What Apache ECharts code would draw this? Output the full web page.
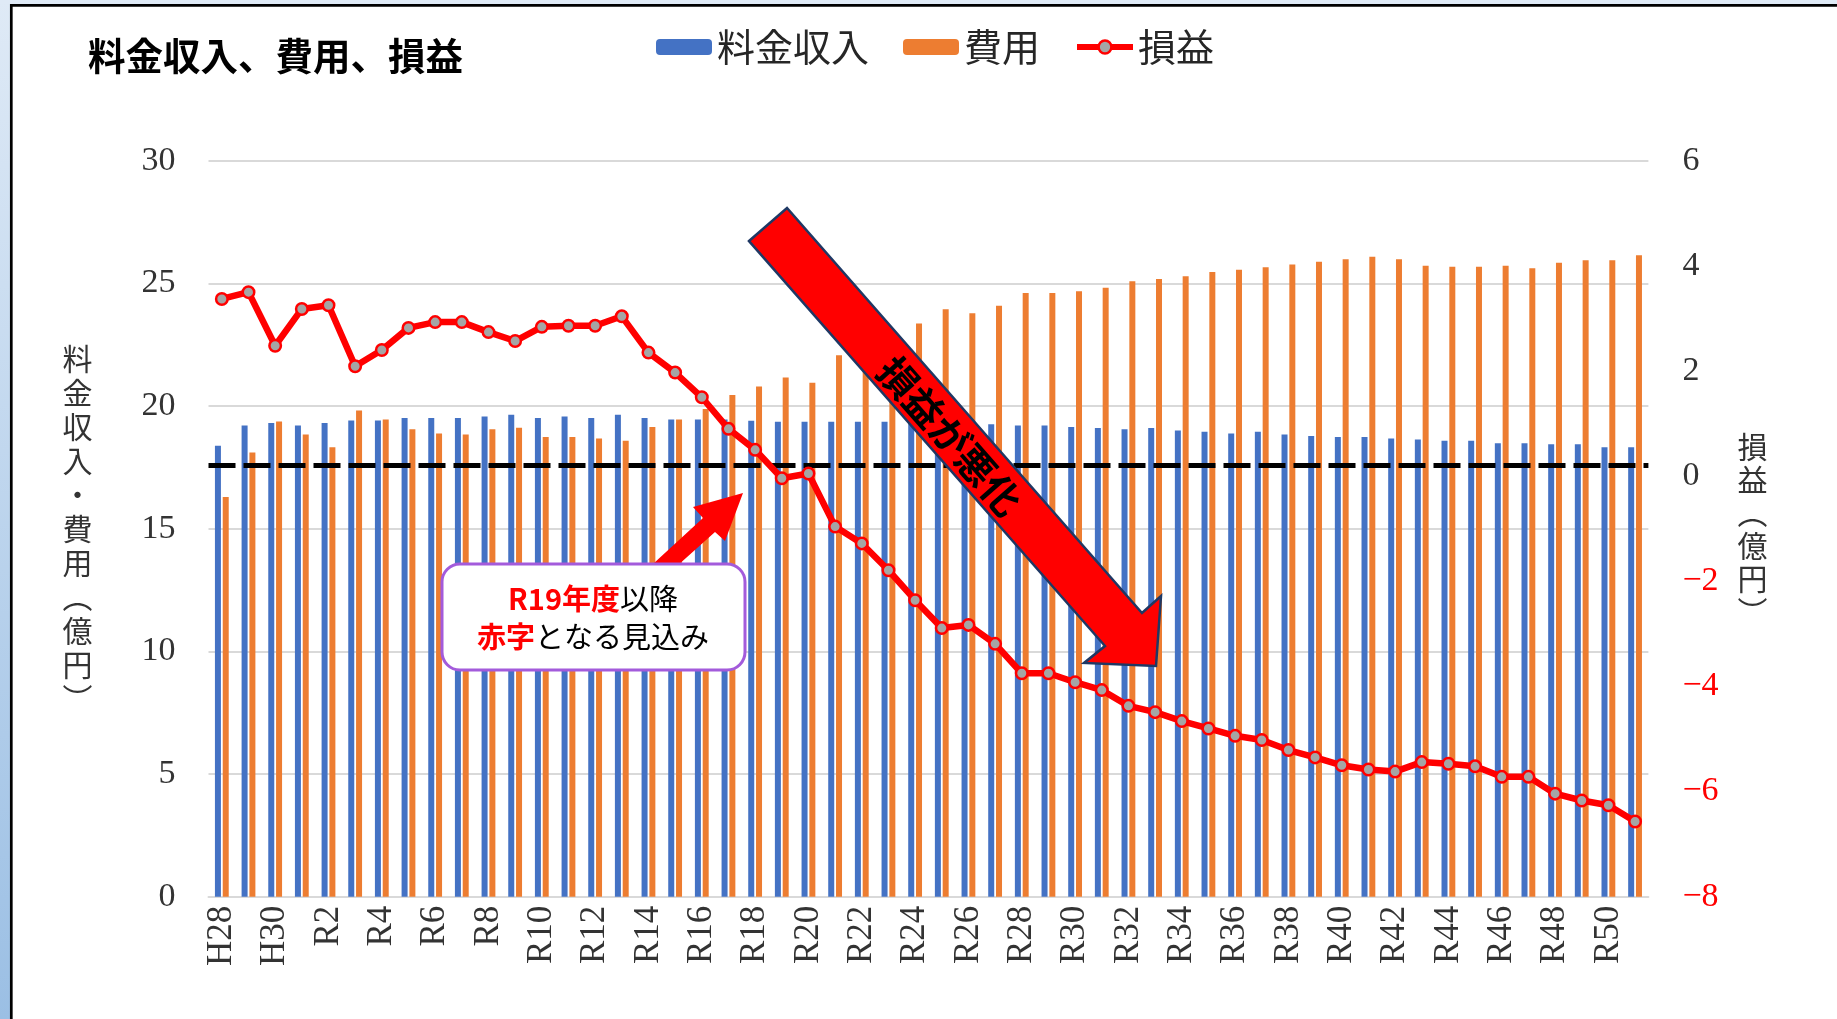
<!DOCTYPE html>
<html>
<head>
<meta charset="utf-8">
<title>料金収入、費用、損益</title>
<script src="https://cdn.jsdelivr.net/npm/echarts@6/dist/echarts.min.js"></script>
<style>
  html, body { margin: 0; padding: 0; background: #fff; }
  #chart { width: 1837px; height: 1019px; }
</style>
</head>
<body>
<div id="chart"></div>
<script>
// 年度
const categories = [
  'H28', 'H29', 'H30', 'R1', 'R2', 'R3', 'R4', 'R5', 'R6', 'R7',
  'R8', 'R9', 'R10', 'R11', 'R12', 'R13', 'R14', 'R15', 'R16', 'R17',
  'R18', 'R19', 'R20', 'R21', 'R22', 'R23', 'R24', 'R25', 'R26', 'R27',
  'R28', 'R29', 'R30', 'R31', 'R32', 'R33', 'R34', 'R35', 'R36', 'R37',
  'R38', 'R39', 'R40', 'R41', 'R42', 'R43', 'R44', 'R45', 'R46', 'R47',
  'R48', 'R49', 'R50', 'R51'
]

// 料金収入（億円）
const revenue = [
  18.38, 19.21, 19.31, 19.21, 19.31, 19.41, 19.41, 19.51, 19.51, 19.51,
  19.57, 19.64, 19.51, 19.57, 19.51, 19.64, 19.51, 19.45, 19.45, 19.45,
  19.40, 19.36, 19.36, 19.36, 19.36, 19.36, 19.33, 19.30, 19.28, 19.26,
  19.21, 19.21, 19.15, 19.10, 19.05, 19.10, 19.00, 18.95, 18.88, 18.95,
  18.84, 18.78, 18.74, 18.74, 18.68, 18.64, 18.58, 18.58, 18.48, 18.48,
  18.44, 18.44, 18.32, 18.32
]

// 費用（億円）
const cost = [
  16.29, 18.11, 19.37, 18.84, 18.32, 19.82, 19.45, 19.05, 18.88, 18.84,
  19.05, 19.11, 18.74, 18.74, 18.68, 18.58, 19.15, 19.45, 19.88, 20.45,
  20.80, 21.16, 20.95, 22.07, 22.40, 22.90, 23.36, 23.94, 23.78, 24.09,
  24.61, 24.61, 24.68, 24.82, 25.09, 25.18, 25.29, 25.46, 25.56, 25.66,
  25.77, 25.88, 25.98, 26.08, 25.98, 25.72, 25.68, 25.68, 25.72, 25.62,
  25.84, 25.94, 25.94, 26.15
]

// 損益（億円）
const profit = [
  3.37, 3.50, 2.48, 3.18, 3.25, 2.09, 2.40, 2.82, 2.93, 2.93,
  2.74, 2.57, 2.84, 2.86, 2.86, 3.04, 2.35, 1.97, 1.50, 0.90,
  0.50, -0.04, 0.05, -0.96, -1.28, -1.79, -2.36, -2.89, -2.83, -3.19,
  -3.75, -3.75, -3.92, -4.07, -4.37, -4.49, -4.66, -4.80, -4.94, -5.02,
  -5.21, -5.35, -5.50, -5.58, -5.62, -5.44, -5.47, -5.52, -5.72, -5.72,
  -6.04, -6.17, -6.26, -6.57
]

const breakEven = 0.2

const jp = 'Noto Sans CJK JP'
const serif = 'Liberation Serif'

const myChart = echarts.init(document.getElementById('chart'))

myChart.setOption({
  animation: false,
  backgroundColor: '#fff',
  textStyle: { fontFamily: jp },
  title: {
    text: '料金収入、費用、損益',
    left: 88,
    top: 37,
    padding: 0,
    textStyle: { fontFamily: jp, fontWeight: 'bold', fontSize: 37.5, color: '#000' }
  },
  legend: {
    left: 656,
    top: 28,
    padding: 0,
    itemWidth: 56,
    itemHeight: 16,
    itemGap: 34,
    textStyle: { fontFamily: jp, fontSize: 38, color: '#262626' },
    data: [
      '料金収入',
      '費用',
      { name: '損益', lineStyle: { width: 6 }, itemStyle: { borderWidth: 2.5 } }
    ]
  },
  grid: {
    left: 208.5,
    right: 188.6,
    top: 160.7,
    bottom: 122.3
  },
  xAxis: {
    type: 'category',
    data: categories,
    axisLine: { lineStyle: { color: '#D9D9D9', width: 2 } },
    axisTick: { show: false },
    axisLabel: {
      interval: 1,
      rotate: 90,
      margin: 9,
      fontFamily: serif,
      fontSize: 35,
      color: '#333'
    }
  },
  yAxis: [
    {
      type: 'value',
      min: 0,
      max: 30,
      interval: 5,
      position: 'left',
      name: '料\n金\n収\n入\n・\n費\n用\n︵\n億\n円\n︶',
      nameLocation: 'middle',
      nameGap: 131,
      nameRotate: 0,
      nameTextStyle: {
        fontFamily: jp, fontSize: 30, lineHeight: 34, color: '#333',
        align: 'center', verticalAlign: 'middle', padding: [0, 0, 9, 0]
      },
      axisLine: { show: false },
      axisTick: { show: false },
      axisLabel: { margin: 33, fontFamily: serif, fontSize: 34, color: '#333' },
      splitLine: { lineStyle: { color: '#D9D9D9', width: 2 } }
    },
    {
      type: 'value',
      min: -8,
      max: 6,
      interval: 2,
      position: 'right',
      name: '損\n益\n︵\n億\n円\n︶',
      nameLocation: 'middle',
      nameGap: 104,
      nameRotate: 0,
      nameTextStyle: {
        fontFamily: jp, fontSize: 30, lineHeight: 33, color: '#333',
        align: 'center', verticalAlign: 'middle', padding: [0, 0, 18, 0]
      },
      axisLine: { show: false },
      axisTick: { show: false },
      splitLine: { show: false },
      axisLabel: {
        margin: 34,
        formatter: v => v < 0 ? '{n|−' + (-v) + '}' : '{p|' + v + '}',
        rich: {
          n: { fontFamily: serif, fontSize: 34, color: '#FF0000' },
          p: { fontFamily: serif, fontSize: 34, color: '#333' }
        }
      }
    }
  ],
  series: [
    {
      name: '料金収入',
      type: 'bar',
      data: revenue,
      barWidth: 6,
      barGap: '30%',
      itemStyle: { color: '#4472C4' }
    },
    {
      name: '費用',
      type: 'bar',
      data: cost,
      barWidth: 6,
      itemStyle: { color: '#ED7D31' }
    },
    {
      name: '損益',
      type: 'line',
      yAxisIndex: 1,
      data: profit,
      z: 5,
      symbol: 'circle',
      symbolSize: 11.5,
      lineStyle: { color: '#FF0000', width: 6.5 },
      itemStyle: { color: '#A5A5A5', borderColor: '#FF0000', borderWidth: 2.5 },
      markLine: {
        silent: true,
        symbol: 'none',
        label: { show: false },
        lineStyle: { color: '#000', width: 5, type: [27, 8] },
        data: [{ yAxis: breakEven }]
      }
    }
  ],
  graphic: [
    // 左と上の枠
    {
      type: 'rect', silent: true,
      shape: { x: 0, y: 0, width: 11, height: 1019 },
      style: {
        fill: new echarts.graphic.LinearGradient(0, 0, 0, 1, [
          { offset: 0, color: '#dfeaf6' },
          { offset: 1, color: '#9bbfe4' }
        ])
      }
    },
    { type: 'rect', silent: true, shape: { x: 0, y: 0, width: 1837, height: 4 }, style: { fill: '#dfeaf6' } },
    { type: 'line', silent: true, shape: { x1: 11.3, y1: 4, x2: 11.3, y2: 1019 }, style: { stroke: '#000', lineWidth: 2.7 } },
    { type: 'line', silent: true, shape: { x1: 10, y1: 5.3, x2: 1837, y2: 5.3 }, style: { stroke: '#000', lineWidth: 2.7 } },
    // 損益が悪化 の矢印
    {
      type: 'polygon', silent: true, z: 100,
      shape: { points: [[749, 241], [787, 208], [1142, 613], [1161, 596], [1156, 666], [1084, 663], [1105, 646]] },
      style: { fill: '#FF0000', stroke: '#1F3864', lineWidth: 2.5 }
    },
    {
      type: 'text', silent: true, z: 101,
      x: 950, y: 436, rotation: -0.848,
      style: {
        text: '損益が悪化',
        font: 'bold 39px "Noto Sans CJK JP"',
        fill: '#000',
        align: 'center', verticalAlign: 'middle',
        textAlign: 'center', textVerticalAlign: 'middle'
      }
    },
    // 吹き出しの矢印
    {
      type: 'polygon', silent: true, z: 100,
      shape: { points: [[641, 575], [703, 518], [693, 507], [743, 493], [725, 541], [715, 532], [667, 575]] },
      style: { fill: '#FF0000' }
    },
    {
      type: 'rect', silent: true, z: 102,
      shape: { x: 442, y: 564, width: 303, height: 106, r: 18 },
      style: { fill: '#fff', stroke: '#A35BDB', lineWidth: 3 }
    },
    {
      type: 'text', silent: true, z: 103,
      x: 593, y: 618,
      style: {
        text: '{r|R19年度}{k|以降}\n{r|赤字}{k|となる見込み}',
        align: 'center', verticalAlign: 'middle',
        textAlign: 'center', textVerticalAlign: 'middle',
        rich: {
          r: { fill: '#FF0000', fontSize: 29, fontWeight: 'bold', fontFamily: jp, lineHeight: 38 },
          k: { fill: '#000', fontSize: 29, fontFamily: jp, lineHeight: 38 }
        }
      }
    }
  ]
})
</script>
</body>
</html>
